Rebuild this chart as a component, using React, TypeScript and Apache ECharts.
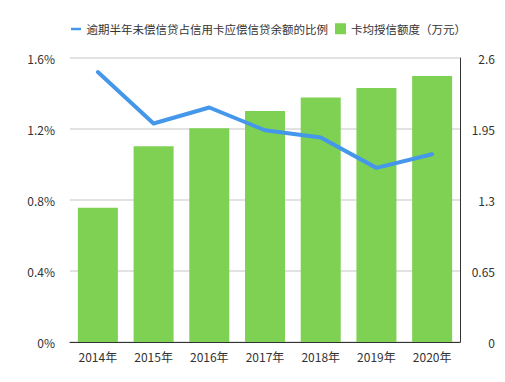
import React, { useEffect, useRef } from "react";
import * as echarts from "echarts";

const categories = ["2014年", "2015年", "2016年", "2017年", "2018年", "2019年", "2020年"];
const overdueRatio = [1.521, 1.231, 1.321, 1.193, 1.152, 0.981, 1.058];
const avgCredit = [1.228, 1.792, 1.957, 2.115, 2.238, 2.326, 2.435];
const lineName = "逾期半年未偿信贷占信用卡应偿信贷余额的比例";
const barName = "卡均授信额度（万元）";

export default function App() {
  const ref = useRef<HTMLDivElement>(null);
  useEffect(() => {
    if (!ref.current) return;
    ref.current.style.setProperty("text-spacing-trim", "space-all");
    const chart = echarts.init(ref.current, null, { renderer: "svg" });
    const font = "'PingFang SC', 'Noto Sans CJK SC', sans-serif";
    chart.setOption({
      animation: false,
      textStyle: { fontFamily: font },
      legend: {
        top: 18,
        left: 66,
        itemWidth: 11,
        itemHeight: 11,
        itemGap: 7,
        textStyle: { fontSize: 11.5, color: "#333", fontFamily: font },
        data: [
          { name: lineName, icon: "path://M0,0 M0,4.5 L10,4.5 L10,7 L0,7 Z M10,11" },
          { name: barName, icon: "rect" },
        ],
      },
      grid: { left: 70, right: 45, top: 58, bottom: 40 },
      xAxis: {
        type: "category",
        data: categories,
        axisLine: { show: true, lineStyle: { color: "#333", width: 1 } },
        axisTick: { show: false },
        axisLabel: { color: "#333", fontSize: 12, margin: 8, fontFamily: font },
      },
      yAxis: [
        {
          type: "value",
          min: 0,
          max: 1.6,
          interval: 0.4,
          position: "left",
          axisLine: { show: false },
          axisTick: { show: false },
          axisLabel: {
            color: "#333",
            fontSize: 12,
            margin: 15,
            fontFamily: font,
            formatter: (v: number) => `${Math.round(v * 10) / 10}%`,
          },
          splitLine: { show: true, lineStyle: { color: "#d9d9d9", width: 1.5 } },
        },
        {
          type: "value",
          min: 0,
          max: 2.6,
          interval: 0.65,
          position: "right",
          axisLine: { show: true, lineStyle: { color: "#333", width: 1 } },
          axisTick: { show: false },
          axisLabel: {
            color: "#333",
            fontSize: 12,
            margin: 35,
            align: "right",
            fontFamily: font,
            formatter: (v: number) => `${Math.round(v * 100) / 100}`,
          },
          splitLine: { show: false },
        },
      ],
      series: [
        {
          name: barName,
          type: "bar",
          yAxisIndex: 1,
          data: avgCredit,
          barWidth: 40,
          itemStyle: { color: "#7ED152" },
          z: 2,
        },
        {
          name: lineName,
          type: "line",
          yAxisIndex: 0,
          data: overdueRatio,
          symbol: "none",
          lineStyle: { color: "#4597EA", width: 4, cap: "round", join: "round" },
          itemStyle: { color: "#4597EA" },
          z: 3,
        },
      ],
    });
    return () => chart.dispose();
  }, []);
  return <div ref={ref} style={{ width: 505, height: 382, position: "absolute", left: 0, top: 0 }} />;
}
